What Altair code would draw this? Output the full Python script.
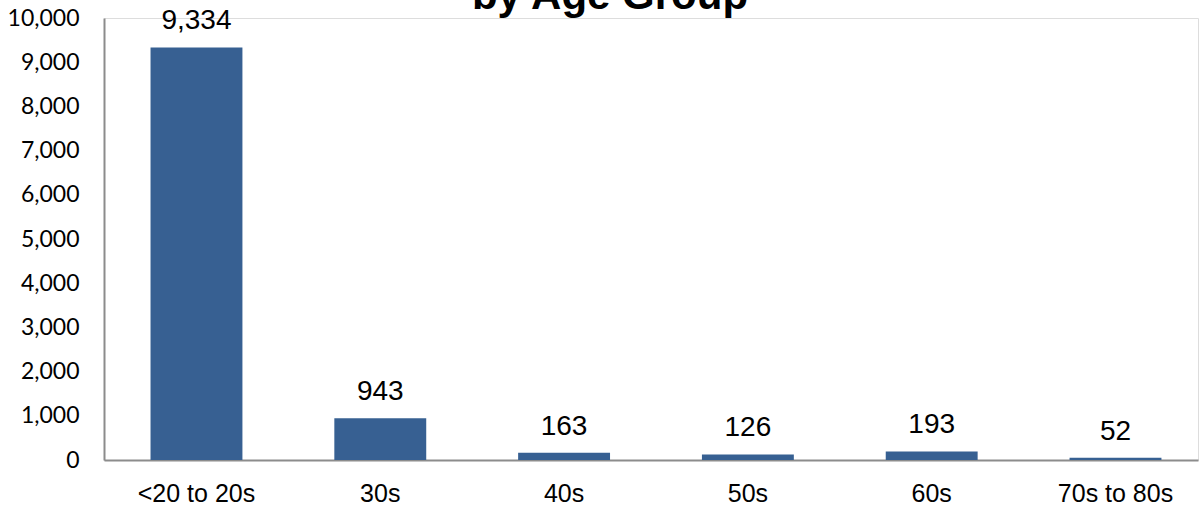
import altair as alt
import pandas as pd

# Counts per age group
age_groups = ["<20 to 20s", "30s", "40s", "50s", "60s", "70s to 80s"]
counts = [9334, 943, 163, 126, 193, 52]
y_ticks = [0, 1000, 2000, 3000, 4000, 5000, 6000, 7000, 8000, 9000, 10000]
title_text = "by Age Group"

df = pd.DataFrame({"group": age_groups, "count": counts})

AXIS_GRAY = "#8c8c8c"
BAR_BLUE = "#376092"

x_enc = alt.X(
    "group:N",
    sort=age_groups,
    title=None,
    scale=alt.Scale(paddingInner=0.5, paddingOuter=0.226, align=0.56),
    axis=alt.Axis(
        labelAngle=0,
        labelFont="Liberation Sans",
        labelFontSize=25,
        labelColor="black",
        labelBaseline="alphabetic",
        labelPadding=41,
        ticks=False,
        domainColor=AXIS_GRAY,
        domainWidth=2,
        grid=False,
    ),
)

y_enc = alt.Y(
    "count:Q",
    title=None,
    scale=alt.Scale(domain=[0, 10000], nice=False),
    axis=alt.Axis(
        values=y_ticks,
        format=",.0f",
        labelFont="Lato",
        labelFontSize=23,
        labelColor="black",
        labelPadding=25,
        ticks=False,
        domainColor=AXIS_GRAY,
        domainWidth=2,
        grid=False,
    ),
)

base = alt.Chart(df).encode(x=x_enc, y=y_enc)

bars = base.mark_bar(color=BAR_BLUE)

labels = base.mark_text(
    font="Liberation Sans",
    fontSize=28,
    color="black",
    baseline="alphabetic",
    dy=-18,
).encode(text=alt.Text("count:Q", format=","))

# Chart heading, sitting above the plot area
heading = alt.Chart(pd.DataFrame({"t": [title_text]})).mark_text(
    font="Liberation Sans",
    fontSize=42,
    fontWeight="bold",
    color="black",
    baseline="alphabetic",
    align="center",
).encode(x=alt.value(506), y=alt.value(-9), text="t:N")

chart = (
    alt.layer(bars, labels, heading)
    .properties(
        width=1094,
        height=442,
        autosize=alt.AutoSizeParams(type="none"),
        padding={"left": 104, "top": 18, "right": 1, "bottom": 48},
    )
    .configure_view(stroke=None)
    .configure(background="white")
)

chart.save("out.html", embed_options={"renderer": "svg", "actions": False})
